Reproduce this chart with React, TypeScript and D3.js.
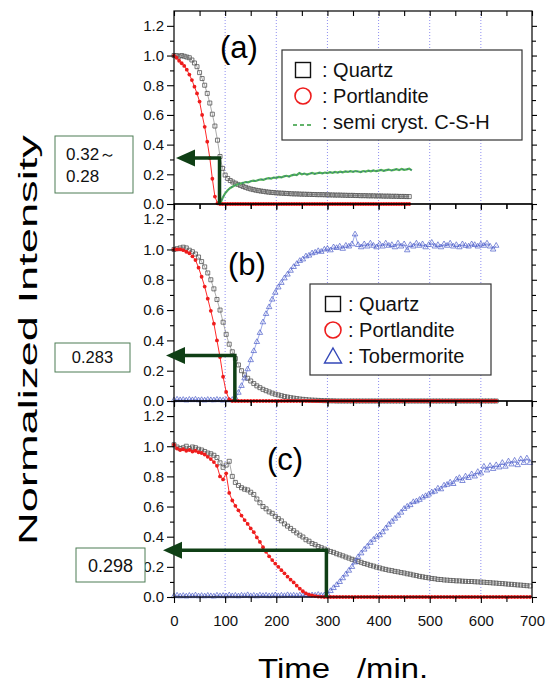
import React, { useEffect, useRef } from "react";
import * as d3 from "d3";

const WIDTH = 548;
const HEIGHT = 688;
const FONT = "'Liberation Sans', Arial, Helvetica, sans-serif";
const ARROW = "#0f3f15";

// sampling of the measurements (minutes)
const stepA = 5;
const stepBC = 6;
const cshStartA = 90;

// (a) t = 0..460, every 5 min
const quartzA = [
  1.0, 1.0, 0.995, 1.0, 0.995, 0.99, 0.985, 0.97, 0.95, 0.925,
  0.885, 0.845, 0.8, 0.745, 0.68, 0.605, 0.525, 0.43, 0.32, 0.24,
  0.195, 0.172, 0.158, 0.148, 0.14, 0.132, 0.125, 0.118, 0.112, 0.106,
  0.101, 0.097, 0.093, 0.09, 0.087, 0.085, 0.082, 0.08, 0.078, 0.077,
  0.075, 0.074, 0.073, 0.072, 0.071, 0.07, 0.069, 0.068, 0.068, 0.067,
  0.066, 0.066, 0.065, 0.065, 0.064, 0.064, 0.063, 0.063, 0.063, 0.062,
  0.062, 0.061, 0.061, 0.06, 0.06, 0.06, 0.059, 0.059, 0.058, 0.058,
  0.058, 0.057, 0.057, 0.056, 0.056, 0.056, 0.055, 0.055, 0.055, 0.054,
  0.054, 0.054, 0.053, 0.053, 0.053, 0.052, 0.052, 0.052, 0.051, 0.051,
  0.051, 0.05, 0.05,
];
const portlanditeA = [
  1.0, 0.985, 0.965, 0.948, 0.93, 0.905, 0.872, 0.835, 0.79, 0.745,
  0.69, 0.6, 0.52, 0.42, 0.31, 0.17, 0.05, 0.005, 0, 0,
  0, 0, 0, 0, 0, 0, 0, 0, 0, 0,
  0, 0, 0, 0, 0, 0, 0, 0, 0, 0,
  0, 0, 0, 0, 0, 0, 0, 0, 0, 0,
  0, 0, 0, 0, 0, 0, 0, 0, 0, 0,
  0, 0, 0, 0, 0, 0, 0, 0, 0, 0,
  0, 0, 0, 0, 0, 0, 0, 0, 0, 0,
  0, 0, 0, 0, 0, 0, 0, 0, 0, 0,
  0, 0, 0,
];
// semi cryst. C-S-H, t = 90..465
const cshA = [
  0.0, 0.04, 0.072, 0.093, 0.108, 0.118, 0.127, 0.133, 0.138, 0.142,
  0.148, 0.146, 0.153, 0.157, 0.155, 0.162, 0.166, 0.163, 0.17, 0.174,
  0.171, 0.178, 0.176, 0.182, 0.179, 0.186, 0.19, 0.185, 0.193, 0.198,
  0.195, 0.208, 0.2, 0.205, 0.198, 0.204, 0.209, 0.203, 0.207, 0.211,
  0.206, 0.212, 0.208, 0.214, 0.21, 0.216, 0.212, 0.218, 0.213, 0.219,
  0.216, 0.221, 0.217, 0.222, 0.219, 0.215, 0.222, 0.218, 0.224, 0.22,
  0.226, 0.221, 0.225, 0.229, 0.223, 0.228, 0.232, 0.226, 0.23, 0.234,
  0.228, 0.236, 0.23, 0.233, 0.238, 0.226,
];

// (b) t = 0..630, every 6 min
const quartzB = [
  1.0, 1.005, 1.01, 1.015, 1.01, 0.995, 0.985, 0.97, 0.95, 0.92,
  0.885, 0.845, 0.8, 0.74, 0.67, 0.6, 0.52, 0.44, 0.375, 0.325,
  0.28, 0.238, 0.2, 0.172, 0.15, 0.132, 0.115, 0.1, 0.088, 0.077,
  0.068, 0.06, 0.052, 0.045, 0.04, 0.035, 0.03, 0.026, 0.022, 0.019,
  0.016, 0.013, 0.011, 0.009, 0.007, 0.006, 0.005, 0.004, 0.003, 0.002,
  0.002, 0.001, 0.001, 0, 0, 0, 0, 0, 0, 0,
  0, 0, 0, 0, 0, 0, 0, 0, 0, 0,
  0, 0, 0, 0, 0, 0, 0, 0, 0, 0,
  0, 0, 0, 0, 0, 0, 0, 0, 0, 0,
  0, 0, 0, 0, 0, 0, 0, 0, 0, 0,
  0, 0, 0, 0, 0, 0,
];
const portlanditeB = [
  1.0, 1.0, 1.0, 0.995, 0.985, 0.975, 0.955, 0.93, 0.88, 0.82,
  0.755, 0.675, 0.595, 0.51, 0.4, 0.29, 0.16, 0.06, 0.01, 0,
  0, 0, 0, 0, 0, 0, 0, 0, 0, 0,
  0, 0, 0, 0, 0, 0, 0, 0, 0, 0,
  0, 0, 0, 0, 0, 0, 0, 0, 0, 0,
  0, 0, 0, 0, 0, 0, 0, 0, 0, 0,
  0, 0, 0, 0, 0, 0, 0, 0, 0, 0,
  0, 0, 0, 0, 0, 0, 0, 0, 0, 0,
  0, 0, 0, 0, 0, 0, 0, 0, 0, 0,
  0, 0, 0, 0, 0, 0, 0, 0, 0, 0,
  0, 0, 0, 0, 0, 0,
];
const tobermoriteB = [
  0.005, 0.01, 0.006, 0.008, 0.004, 0.009, 0.006, 0.01, 0.005, 0.007,
  0.004, 0.008, 0.006, 0.005, 0.009, 0.006, 0.004, 0.007, 0.005, 0.008,
  0.02, 0.055, 0.1, 0.15, 0.21, 0.27, 0.33, 0.39, 0.45, 0.52,
  0.575, 0.62, 0.67, 0.715, 0.75, 0.78, 0.81, 0.835, 0.86, 0.885,
  0.905, 0.925, 0.935, 0.955, 0.96, 0.975, 0.98, 0.99, 0.985, 1.0,
  1.005, 0.995, 1.015, 1.01, 1.02, 1.005, 1.025, 1.02, 1.035, 1.1,
  1.03, 1.015, 1.035, 1.02, 1.04, 1.025, 1.015, 1.035, 1.02, 1.04,
  1.025, 1.03, 1.015, 1.04, 1.02, 1.035, 0.995, 1.03, 1.02, 1.04,
  1.025, 1.035, 1.015, 1.03, 1.045, 1.02, 1.03, 1.015, 1.035, 1.025,
  1.04, 1.02, 1.03, 1.015, 1.035, 1.025, 1.02, 1.035, 1.03, 1.02,
  1.035, 1.025, 1.04, 1.02, 1.0, 1.025,
];

// (c) t = 0..696, every 6 min
const quartzC = [
  1.01, 0.995, 0.985, 0.99, 1.0, 0.985, 0.995, 0.99, 0.98, 0.975,
  0.965, 0.955, 0.95, 0.94, 0.925, 0.89, 0.86, 0.875, 0.9, 0.8,
  0.76, 0.74, 0.725, 0.715, 0.71, 0.695, 0.68, 0.65, 0.625, 0.6,
  0.585, 0.565, 0.555, 0.535, 0.52, 0.505, 0.485, 0.47, 0.455, 0.44,
  0.425, 0.41, 0.398, 0.38, 0.37, 0.355, 0.347, 0.335, 0.327, 0.318,
  0.31, 0.302, 0.296, 0.287, 0.28, 0.273, 0.265, 0.258, 0.25, 0.244,
  0.236, 0.23, 0.222, 0.217, 0.21, 0.205, 0.198, 0.193, 0.187, 0.183,
  0.178, 0.175, 0.17, 0.167, 0.162, 0.159, 0.154, 0.151, 0.146, 0.142,
  0.137, 0.134, 0.13, 0.127, 0.123, 0.121, 0.117, 0.116, 0.113, 0.112,
  0.11, 0.109, 0.107, 0.107, 0.105, 0.104, 0.103, 0.103, 0.101, 0.1,
  0.099, 0.098, 0.096, 0.095, 0.093, 0.092, 0.09, 0.089, 0.087, 0.085,
  0.084, 0.082, 0.08, 0.079, 0.077, 0.075, 0.073,
];
const portlanditeC = [
  1.01, 0.985, 0.975, 0.98, 0.97, 0.975, 0.965, 0.97, 0.96, 0.955,
  0.945, 0.93, 0.915, 0.895, 0.87, 0.8, 0.78, 0.82, 0.69, 0.64,
  0.605, 0.575, 0.54, 0.51, 0.485, 0.455, 0.43, 0.395, 0.365, 0.33,
  0.3, 0.27, 0.245, 0.222, 0.2, 0.178, 0.157, 0.135, 0.115, 0.097,
  0.075, 0.055, 0.038, 0.024, 0.015, 0.01, 0.006, 0.003, 0.001, 0,
  0, 0, 0, 0, 0, 0, 0, 0, 0, 0,
  0, 0, 0, 0, 0, 0, 0, 0, 0, 0,
  0, 0, 0, 0, 0, 0, 0, 0, 0, 0,
  0, 0, 0, 0, 0, 0, 0, 0, 0, 0,
  0, 0, 0, 0, 0, 0, 0, 0, 0, 0,
  0, 0, 0, 0, 0, 0, 0, 0, 0, 0,
  0, 0, 0, 0, 0, 0, 0,
];
const tobermoriteC = [
  0.006, 0.01, 0.005, 0.008, 0.004, 0.009, 0.006, 0.011, 0.005, 0.008,
  0.005, 0.009, 0.006, 0.004, 0.01, 0.006, 0.008, 0.005, 0.012, 0.006,
  0.009, 0.005, 0.01, 0.007, 0.013, 0.006, 0.009, 0.005, 0.011, 0.007,
  0.01, 0.006, 0.008, 0.012, 0.006, 0.01, 0.007, 0.013, 0.008, 0.01,
  0.007, 0.011, 0.009, 0.014, 0.008, 0.012, 0.01, 0.015, 0.009, 0.012,
  0.02, 0.04, 0.06, 0.08, 0.1, 0.125, 0.15, 0.175, 0.2, 0.23,
  0.265, 0.29, 0.315, 0.335, 0.36, 0.38, 0.4, 0.41, 0.43, 0.455,
  0.48, 0.5, 0.52, 0.54, 0.56, 0.585, 0.6, 0.61, 0.63, 0.635,
  0.645, 0.66, 0.67, 0.68, 0.695, 0.7, 0.72, 0.715, 0.74, 0.745,
  0.76, 0.75, 0.78, 0.79, 0.77, 0.8, 0.79, 0.815, 0.8, 0.83,
  0.82, 0.865, 0.84, 0.87, 0.85, 0.875, 0.86, 0.89, 0.865, 0.9,
  0.88, 0.905, 0.875, 0.915, 0.89, 0.92, 0.89,
];

const xMajor = [0, 100, 200, 300, 400, 500, 600, 700];
const xMinor = [50, 150, 250, 350, 450, 550, 650];
const yMajor = [0, 0.2, 0.4, 0.6, 0.8, 1.0, 1.2];
const yMinor = [0.1, 0.3, 0.5, 0.7, 0.9, 1.1];
const gridTimes = [100, 200, 300, 400, 500, 600];

const panelNames = ["(a)", "(b)", "(c)"];
const arrowTimes = [89, 119, 298];
const arrowLevels = [0.31, 0.3, 0.31];
const boxTexts = [["0.32～", "0.28"], ["0.283"], ["0.298"]];
const legendA = [": Quartz", ": Portlandite", ": semi cryst. C-S-H"];
const legendB = [": Quartz", ": Portlandite", ": Tobermorite"];

type Series = { kind: string; values: number[]; t0: number; dt: number };

export default function App() {
  const ref = useRef<SVGSVGElement | null>(null);

  useEffect(() => {
    const svg = d3.select(ref.current);
    svg.selectAll("*").remove();
    const x = d3.scaleLinear().domain([0, 700]).range([174, 532]);

    const panels = [
      {
        top: 11, bottom: 204,
        series: [
          { kind: "quartz", values: quartzA, t0: 0, dt: stepA },
          { kind: "csh", values: cshA, t0: cshStartA, dt: stepA },
          { kind: "port", values: portlanditeA, t0: 0, dt: stepA },
        ] as Series[],
        name: { x: 239, y: 58 }, tip: 176,
        box: { x: 55, y: 136, w: 78, h: 57, tx: 66, ty: [160, 182], anchor: "start", fs: 17 },
        legend: { x: 282, y: 50, w: 240, h: 90, sx: 303, tx: 322, ty: [77, 103, 129], texts: legendA, kinds: ["quartz", "port", "csh"] },
      },
      {
        top: 204, bottom: 401,
        series: [
          { kind: "quartz", values: quartzB, t0: 0, dt: stepBC },
          { kind: "tober", values: tobermoriteB, t0: 0, dt: stepBC },
          { kind: "port", values: portlanditeB, t0: 0, dt: stepBC },
        ] as Series[],
        name: { x: 247, y: 275 }, tip: 166,
        box: { x: 55, y: 343, w: 75, h: 29, tx: 92.5, ty: [363], anchor: "middle", fs: 16.5 },
        legend: { x: 310, y: 284, w: 181, h: 91, sx: 333, tx: 348, ty: [311, 337, 363], texts: legendB, kinds: ["quartz", "port", "tober"] },
      },
      {
        top: 401, bottom: 597,
        series: [
          { kind: "quartz", values: quartzC, t0: 0, dt: stepBC },
          { kind: "tober", values: tobermoriteC, t0: 0, dt: stepBC },
          { kind: "port", values: portlanditeC, t0: 0, dt: stepBC },
        ] as Series[],
        name: { x: 285, y: 470 }, tip: 163,
        box: { x: 76, y: 548, w: 69, h: 34, tx: 110.5, ty: [572], anchor: "middle", fs: 18 },
        legend: null,
      },
    ];

    panels.forEach((p, i) => {
      const y = d3.scaleLinear().domain([0, 1.3]).range([p.bottom, p.top]);
      const g = svg.append("g");

      // dotted vertical grid
      g.selectAll(".grid").data(gridTimes).join("line").attr("class", "grid")
        .attr("x1", d => x(d)).attr("x2", d => x(d)).attr("y1", p.top).attr("y2", p.bottom)
        .attr("stroke", "#8f8ff0").attr("stroke-width", 1).attr("stroke-dasharray", "1,2");

      p.series.forEach(s => {
        const pts = s.values.map((v, k) => [s.t0 + k * s.dt, v] as [number, number]);
        const line = d3.line<[number, number]>().x(d => x(d[0])).y(d => y(d[1]));
        const sg = g.append("g");
        if (s.kind === "csh") {
          sg.append("path").attr("d", line(pts)).attr("fill", "none").attr("stroke", "#52b552").attr("stroke-width", 2.2);
          sg.append("path").attr("d", line(pts)).attr("fill", "none").attr("stroke", "#2f4fa8").attr("stroke-width", 0.7).attr("stroke-dasharray", "2,2");
        } else if (s.kind === "quartz") {
          sg.append("path").attr("d", line(pts)).attr("fill", "none").attr("stroke", "#888").attr("stroke-width", 0.7);
          sg.selectAll("path.m").data(pts).join("path").attr("class", "m")
            .attr("d", d3.symbol(d3.symbolSquare, 16)())
            .attr("transform", d => `translate(${x(d[0])},${y(d[1])})`)
            .attr("fill", "none").attr("stroke", "#555").attr("stroke-width", 0.8);
        } else if (s.kind === "tober") {
          sg.append("path").attr("d", line(pts)).attr("fill", "none").attr("stroke", "#7080dd").attr("stroke-width", 0.7);
          sg.selectAll("path.m").data(pts).join("path").attr("class", "m")
            .attr("d", d3.symbol(d3.symbolTriangle, 13)())
            .attr("transform", d => `translate(${x(d[0])},${y(d[1])})`)
            .attr("fill", "none").attr("stroke", "#4a5cc8").attr("stroke-width", 0.7);
        } else {
          sg.append("path").attr("d", line(pts)).attr("fill", "none").attr("stroke", "#ff2a2a").attr("stroke-width", 1);
          sg.selectAll("circle").data(pts).join("circle")
            .attr("cx", d => x(d[0])).attr("cy", d => y(d[1])).attr("r", 1.9).attr("fill", "#ee1c1c");
        }
      });

      // frame
      g.append("rect").attr("x", 174).attr("y", p.top).attr("width", 358).attr("height", p.bottom - p.top)
        .attr("fill", "none").attr("stroke", "#000").attr("stroke-width", 1.2);

      // axes
      const left = g.append("g").attr("transform", "translate(174,0)")
        .call(d3.axisLeft(y).tickValues(yMajor).tickSize(7).tickPadding(3).tickFormat(d3.format(".1f")));
      left.selectAll("text").attr("font-size", 15).attr("font-family", FONT).attr("fill", "#111");
      g.append("g").attr("transform", "translate(174,0)")
        .call(d3.axisLeft(y).tickValues(yMinor).tickSize(4).tickFormat(() => ""));
      g.append("g").attr("transform", "translate(532,0)")
        .call(d3.axisRight(y).tickValues(yMajor).tickSize(5).tickFormat(() => ""));
      g.append("g").attr("transform", "translate(532,0)")
        .call(d3.axisRight(y).tickValues(yMinor).tickSize(4).tickFormat(() => ""));
      g.append("g").attr("transform", `translate(0,${p.top})`)
        .call(d3.axisBottom(x).tickValues([...xMajor, ...xMinor]).tickSize(5).tickFormat(() => ""));
      const bottom = g.append("g").attr("transform", `translate(0,${p.bottom})`)
        .call(d3.axisBottom(x).tickValues(xMajor).tickSize(6).tickPadding(12)
          .tickFormat(i === 2 ? d3.format("d") : () => ""));
      bottom.selectAll("text").attr("font-size", 15).attr("font-family", FONT).attr("fill", "#111");
      g.append("g").attr("transform", `translate(0,${p.bottom})`)
        .call(d3.axisBottom(x).tickValues(xMinor).tickSize(5).tickFormat(() => ""));
      g.selectAll(".domain").remove();
      g.selectAll(".tick line").attr("stroke", "#000").attr("stroke-width", 1.1);

      // panel letter
      g.append("text").attr("x", p.name.x).attr("y", p.name.y).attr("text-anchor", "middle")
        .attr("font-family", FONT).attr("font-size", 31).text(panelNames[i]);

      // arrow from disappearance of portlandite to the quartz level
      const ax = x(arrowTimes[i]);
      const ay = y(arrowLevels[i]);
      g.append("path").attr("d", `M${ax},${y(0)}V${ay}H${p.tip + 14}`)
        .attr("fill", "none").attr("stroke", ARROW).attr("stroke-width", 3.5);
      g.append("path").attr("d", `M${p.tip},${ay}L${p.tip + 19},${ay - 8.5}L${p.tip + 19},${ay + 8.5}Z`)
        .attr("fill", ARROW);

      // value box
      const b = p.box;
      g.append("rect").attr("x", b.x).attr("y", b.y).attr("width", b.w).attr("height", b.h)
        .attr("fill", "#fff").attr("stroke", "#4d7d55").attr("stroke-width", 1);
      boxTexts[i].forEach((t, k) => {
        g.append("text").attr("x", b.tx).attr("y", b.ty[k]).attr("text-anchor", b.anchor)
          .attr("font-family", FONT).attr("font-size", b.fs).attr("fill", "#111").text(t);
      });

      // legend
      const L = p.legend;
      if (L) {
        g.append("rect").attr("x", L.x).attr("y", L.y).attr("width", L.w).attr("height", L.h)
          .attr("fill", "#fff").attr("stroke", "#333").attr("stroke-width", 1.2);
        L.kinds.forEach((k, j) => {
          const cy = L.ty[j] - 7;
          if (k === "quartz") {
            g.append("rect").attr("x", L.sx - 7.5).attr("y", cy - 7.5).attr("width", 15).attr("height", 15)
              .attr("fill", "none").attr("stroke", "#111").attr("stroke-width", 1.4);
          } else if (k === "port") {
            g.append("circle").attr("cx", L.sx).attr("cy", cy).attr("r", 8)
              .attr("fill", "none").attr("stroke", "#ee1c1c").attr("stroke-width", 1.6);
          } else if (k === "tober") {
            g.append("path").attr("d", `M${L.sx},${cy - 8}L${L.sx + 8.5},${cy + 7}L${L.sx - 8.5},${cy + 7}Z`)
              .attr("fill", "none").attr("stroke", "#3347b8").attr("stroke-width", 1.4);
          } else {
            g.append("line").attr("x1", L.sx - 10).attr("x2", L.sx + 9).attr("y1", cy + 3).attr("y2", cy + 3)
              .attr("stroke", "#2f9a3a").attr("stroke-width", 1.6).attr("stroke-dasharray", "4,3");
          }
          g.append("text").attr("x", L.tx).attr("y", L.ty[j]).attr("font-family", FONT)
            .attr("font-size", 20).attr("fill", "#111").text(L.texts[j]);
        });
      }
    });

    // axis titles
    svg.append("text").attr("transform", "translate(37,340) rotate(-90)").attr("text-anchor", "middle")
      .attr("font-family", FONT).attr("font-size", 26.5).attr("textLength", 410).attr("lengthAdjust", "spacingAndGlyphs")
      .text("Normalized Intensity");
    svg.append("text").attr("x", 258).attr("y", 678).attr("font-family", FONT).attr("font-size", 28)
      .attr("textLength", 72).attr("lengthAdjust", "spacingAndGlyphs").text("Time");
    svg.append("text").attr("x", 357).attr("y", 678).attr("font-family", FONT).attr("font-size", 28)
      .attr("textLength", 71).attr("lengthAdjust", "spacingAndGlyphs").text("/min.");
  }, []);

  return (
    <svg ref={ref} width={WIDTH} height={HEIGHT}
      style={{ position: "absolute", left: 0, top: 0, background: "#fff" }} />
  );
}
